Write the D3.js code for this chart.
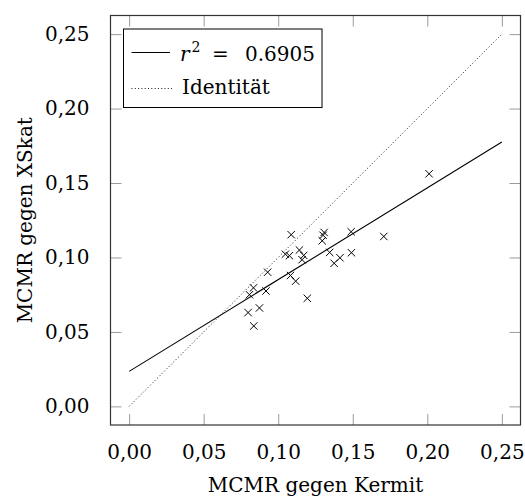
<!DOCTYPE html>
<html>
<head>
<meta charset="utf-8">
<script src="https://cdn.jsdelivr.net/npm/d3@7"></script>
<style>
  html, body { margin: 0; padding: 0; background: #fff; }
  svg text { font-family: "DejaVu Serif", "Liberation Serif", serif; fill: #000; }
</style>
</head>
<body>
<svg id="chart" width="525" height="498"></svg>
<script>
// MCMR run times: Kermit (x) versus XSkat (y)
const kermit = [0.2012, 0.1087, 0.1308, 0.1301, 0.1295, 0.1489, 0.1708, 0.1048, 0.1075,
                0.1142, 0.1171, 0.1160, 0.1345, 0.1491, 0.1414, 0.1375, 0.0929, 0.1082,
                0.1117, 0.0834, 0.0807, 0.0918, 0.1195, 0.0874, 0.0798, 0.0836];
const xskat  = [0.1562, 0.1153, 0.1168, 0.1149, 0.1112, 0.1173, 0.1141, 0.1022, 0.1012,
                0.1050, 0.1014, 0.0985, 0.1034, 0.1032, 0.0998, 0.0961, 0.0901, 0.0879,
                0.0841, 0.0796, 0.0750, 0.0775, 0.0726, 0.0661, 0.0630, 0.0540];

// Linear fit y = a + b x and its coefficient of determination
const fitCoef = [0.0235, 0.6164];
const rSquared = "0.6905";
const lineRange = [0, 0.25];

const ticks = [0, 0.05, 0.10, 0.15, 0.20, 0.25];
const tickLabels = ["0,00", "0,05", "0,10", "0,15", "0,20", "0,25"];
const xTitle = "MCMR gegen Kermit";
const yTitle = "MCMR gegen XSkat";
const identityLabel = "Identität";

const svg = d3.select("#chart");
const box = { left: 110.5, right: 520.5, top: 15.5, bottom: 425 };
const domain = [-0.0125, 0.2625];

const x = d3.scaleLinear().domain(domain).range([box.left, box.right]);
const y = d3.scaleLinear().domain(domain).range([box.bottom, box.top]);

const tickLen = 11;
const fmt = d => tickLabels[ticks.indexOf(d)];

// Inward ticks on all four sides
const axisG = svg.append("g");
const mkAxis = (gen, tx, ty) => {
  const g = axisG.append("g").attr("transform", `translate(${tx},${ty})`).call(gen);
  g.select(".domain").remove();
  g.selectAll(".tick line").attr("stroke", "#9a9a9a").attr("stroke-width", 1);
  return g;
};
mkAxis(d3.axisBottom(x).tickValues(ticks).tickFormat(fmt).tickSizeInner(-tickLen).tickPadding(tickLen + 9), 0, box.bottom);
mkAxis(d3.axisLeft(y).tickValues(ticks).tickFormat(fmt).tickSizeInner(-tickLen).tickPadding(tickLen + 10), box.left, 0);
mkAxis(d3.axisTop(x).tickValues(ticks).tickFormat("").tickSizeInner(-tickLen), 0, box.top);
mkAxis(d3.axisRight(y).tickValues(ticks).tickFormat("").tickSizeInner(-tickLen), box.right, 0);

axisG.selectAll(".tick text")
  .attr("font-family", "DejaVu Serif, serif")
  .attr("font-size", 20)
  .attr("fill", "#000");

// Identity line (dotted)
const lineGen = d3.line().x(d => x(d[0])).y(d => y(d[1]));
svg.append("path")
  .datum(lineRange.map(v => [v, v]))
  .attr("d", lineGen)
  .attr("fill", "none")
  .attr("stroke", "#000")
  .attr("stroke-width", 0.9)
  .attr("stroke-dasharray", "1 2.3");

// Regression line
svg.append("path")
  .datum(lineRange.map(v => [v, fitCoef[0] + fitCoef[1] * v]))
  .attr("d", lineGen)
  .attr("fill", "none")
  .attr("stroke", "#000")
  .attr("stroke-width", 1.1);

// Cross markers
const m = 3.7;
svg.append("g").selectAll("path")
  .data(kermit.map((k, i) => [k, xskat[i]]))
  .join("path")
  .attr("d", d => {
    const cx = x(d[0]), cy = y(d[1]);
    return `M${cx - m},${cy - m}L${cx + m},${cy + m}M${cx - m},${cy + m}L${cx + m},${cy - m}`;
  })
  .attr("stroke", "#000")
  .attr("stroke-width", 1)
  .attr("fill", "none");

// Plot frame
svg.append("rect")
  .attr("x", box.left).attr("y", box.top)
  .attr("width", box.right - box.left).attr("height", box.bottom - box.top)
  .attr("fill", "none").attr("stroke", "#333").attr("stroke-width", 1.2);

// Legend
const lg = svg.append("g");
lg.append("rect")
  .attr("x", 123.5).attr("y", 29).attr("width", 198.5).attr("height", 78.5)
  .attr("fill", "#fff").attr("stroke", "#000").attr("stroke-width", 1);
lg.append("line").attr("x1", 131.5).attr("x2", 170).attr("y1", 52.5).attr("y2", 52.5)
  .attr("stroke", "#000").attr("stroke-width", 1.1);
lg.append("line").attr("x1", 131.5).attr("x2", 172).attr("y1", 88.5).attr("y2", 88.5)
  .attr("stroke", "#000").attr("stroke-width", 0.9).attr("stroke-dasharray", "1 2.3");
const t1 = lg.append("text").attr("y", 60.5).attr("font-size", 20);
t1.append("tspan").attr("x", 180).attr("font-style", "italic").text("r");
t1.append("tspan").attr("x", 191.5).attr("font-size", 14).attr("dy", -9).text("2");
t1.append("tspan").attr("x", 212).attr("dy", 9).text("=");
t1.append("tspan").attr("x", 245).text(rSquared);
lg.append("text").attr("x", 182).attr("y", 93.5).attr("font-size", 20).text(identityLabel);

// Axis titles
svg.append("text")
  .attr("x", (box.left + box.right) / 2).attr("y", 492)
  .attr("text-anchor", "middle").attr("font-size", 20)
  .text(xTitle);
svg.append("text")
  .attr("transform", `translate(32,${(box.top + box.bottom) / 2}) rotate(-90)`)
  .attr("text-anchor", "middle").attr("font-size", 20)
  .text(yTitle);
</script>
</body>
</html>
